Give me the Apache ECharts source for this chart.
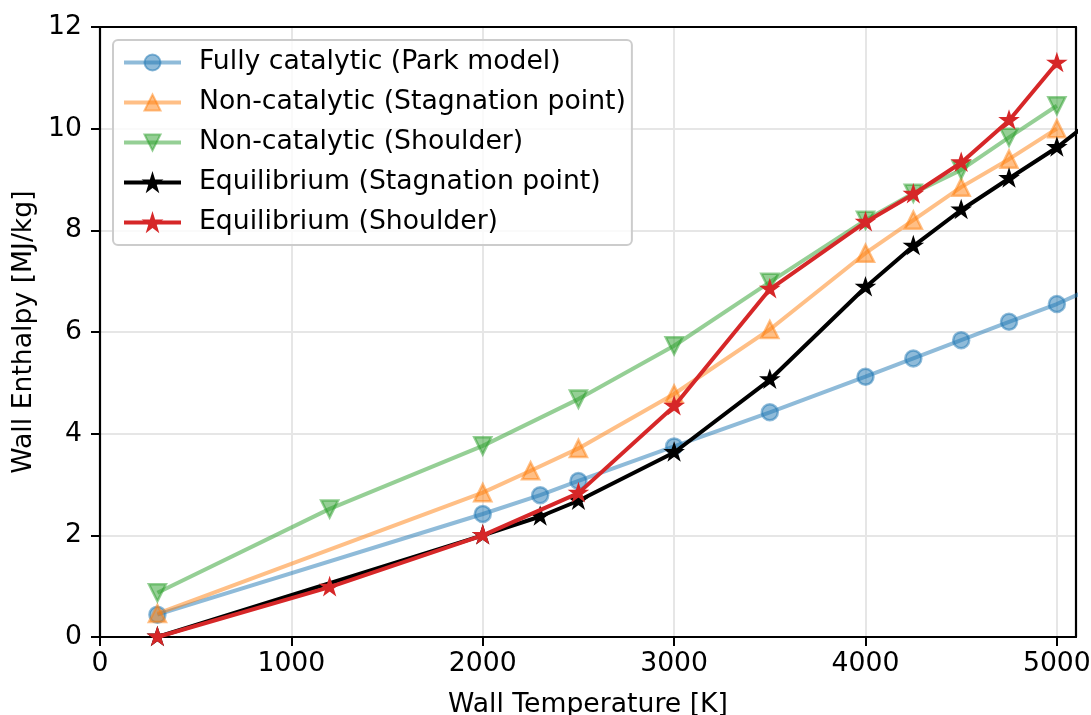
<!DOCTYPE html>
<html>
<head>
<meta charset="utf-8">
<title>Wall Enthalpy vs Wall Temperature</title>
<script src="https://cdn.jsdelivr.net/npm/echarts@6/dist/echarts.min.js"></script>
<style>
  html, body { margin: 0; padding: 0; background: #ffffff; }
  #chart { width: 1091px; height: 715px; }
</style>
</head>
<body>
<div id="chart"></div>
<script>
// Wall temperature [K] and wall enthalpy [MJ/kg] for each case
const fullyCatT = [300, 2000, 2300, 2500, 3000, 3500, 4000, 4250, 4500, 4750, 5000, 5500];
const fullyCatH = [0.44, 2.42, 2.79, 3.07, 3.75, 4.42, 5.12, 5.48, 5.84, 6.20, 6.55, 7.40];

const nonCatStagT = [300, 2000, 2250, 2500, 3000, 3500, 4000, 4250, 4500, 4750, 5000];
const nonCatStagH = [0.46, 2.84, 3.27, 3.71, 4.78, 6.05, 7.55, 8.20, 8.85, 9.40, 10.00];

const nonCatShoT = [300, 1200, 2000, 2500, 3000, 3500, 4000, 4250, 4500, 4750, 5000];
const nonCatShoH = [0.87, 2.52, 3.76, 4.68, 5.73, 6.98, 8.20, 8.73, 9.19, 9.83, 10.45];

const eqStagT = [300, 2000, 2300, 2500, 3000, 3500, 4000, 4250, 4500, 4750, 5000, 5500];
const eqStagH = [0.00, 2.00, 2.37, 2.68, 3.63, 5.06, 6.88, 7.69, 8.40, 9.02, 9.63, 11.10];

const eqShoT = [300, 1200, 2000, 2500, 3000, 3500, 4000, 4250, 4500, 4750, 5000];
const eqShoH = [0.00, 0.98, 2.00, 2.83, 4.54, 6.84, 8.16, 8.71, 9.33, 10.16, 11.29];

const seriesNames = [
  'Fully catalytic (Park model)',
  'Non-catalytic (Stagnation point)',
  'Non-catalytic (Shoulder)',
  'Equilibrium (Stagnation point)',
  'Equilibrium (Shoulder)'
];

const xTicks = [0, 1000, 2000, 3000, 4000, 5000];
const yTicks = [0, 2, 4, 6, 8, 10, 12];

const FONT = 'DejaVu Sans';
const FS = 26.67;
const STAR = 'path://M100,0L122.45,69.1L195.1,69.1L136.33,111.8L158.78,180.9L100,138.2L41.22,180.9L63.67,111.8L4.89,69.1L77.55,69.1Z';

function pairs(xs, ys) {
  return xs.map((x, i) => [x, ys[i]]);
}

function lineSeries(name, xs, ys, color, symbol, opts) {
  const o = opts || {};
  return {
    name: name,
    type: 'line',
    xAxisIndex: 0,
    yAxisIndex: 0,
    data: pairs(xs, ys),
    symbol: symbol,
    symbolSize: o.size || 16,
    symbolRotate: o.rotate || 0,
    symbolKeepAspect: true,
    symbolOffset: o.offset || [0, 0],
    showAllSymbol: true,
    clip: true,
    lineStyle: { color: color, width: 4 },
    itemStyle: { color: color, borderColor: color, borderWidth: o.border || 2.5, opacity: 1 },
    emphasis: { disabled: true },
    z: o.z || 2
  };
}

// frame-only axis (top / right spines)
function frameAxis(extra) {
  return Object.assign({
    type: 'value',
    axisLine: { show: true, onZero: false, lineStyle: { color: '#000000', width: 2.2 } },
    axisTick: { show: false },
    axisLabel: { show: false },
    splitLine: { show: false }
  }, extra);
}

const chart = echarts.init(document.getElementById('chart'), null, { renderer: 'canvas' });

chart.setOption({
  animation: false,
  backgroundColor: '#ffffff',
  textStyle: { fontFamily: FONT },
  grid: { left: 100, right: 15, top: 27, bottom: 78, outerBoundsMode: 'none', containLabel: false },
  legend: {
    orient: 'vertical',
    left: 113,
    top: 40,
    padding: [9, 6, 9, 9],
    itemWidth: 57,
    itemHeight: 20,
    itemGap: 13,
    backgroundColor: 'rgba(255,255,255,0.8)',
    borderColor: '#cccccc',
    borderWidth: 2,
    borderRadius: 5,
    data: seriesNames,
    lineStyle: { width: 4 },
    textStyle: {
      fontFamily: FONT, fontSize: FS, color: '#000000',
      lineHeight: 27, padding: [0, 0, 0, 13]
    }
  },
  xAxis: [{
    type: 'value',
    min: 0,
    max: 5100,
    interval: 1000,
    name: 'Wall Temperature [K]',
    nameLocation: 'middle',
    nameGap: 55,
    nameTextStyle: { fontFamily: FONT, fontSize: FS, color: '#000000' },
    axisLine: { show: true, onZero: false, lineStyle: { color: '#000000', width: 2.2 } },
    axisTick: { show: true, inside: false, length: 9, customValues: xTicks, lineStyle: { color: '#000000', width: 2 } },
    axisLabel: {
      customValues: xTicks,
      margin: 14,
      fontFamily: FONT, fontSize: FS, color: '#000000',
      formatter: v => String(v)
    },
    splitLine: { show: true, lineStyle: { color: '#e6e6e6', width: 2 } }
  }, frameAxis({ position: 'top', min: 0, max: 5100 })],
  yAxis: [{
    type: 'value',
    min: 0,
    max: 12,
    interval: 2,
    name: 'Wall Enthalpy [MJ/kg]',
    nameLocation: 'middle',
    nameGap: 59,
    nameTextStyle: { fontFamily: FONT, fontSize: FS, color: '#000000' },
    axisLine: { show: true, onZero: false, lineStyle: { color: '#000000', width: 2.2 } },
    axisTick: { show: true, inside: false, length: 9, customValues: yTicks, lineStyle: { color: '#000000', width: 2 } },
    axisLabel: {
      customValues: yTicks,
      margin: 18,
      fontFamily: FONT, fontSize: FS, color: '#000000',
      formatter: v => String(v)
    },
    splitLine: { show: true, lineStyle: { color: '#e6e6e6', width: 2 } }
  }, frameAxis({ position: 'right', min: 0, max: 12 })],
  series: [
    lineSeries(seriesNames[0], fullyCatT, fullyCatH, 'rgba(31,119,180,0.5)', 'circle', { size: 16, z: 2 }),
    lineSeries(seriesNames[1], nonCatStagT, nonCatStagH, 'rgba(255,127,14,0.5)', 'triangle', { size: 17, z: 3 }),
    lineSeries(seriesNames[2], nonCatShoT, nonCatShoH, 'rgba(44,160,44,0.5)', 'triangle', { size: 17, rotate: 180, z: 4 }),
    lineSeries(seriesNames[3], eqStagT, eqStagH, '#000000', STAR, { size: 17, border: 1.5, offset: [0, -0.8], z: 5 }),
    lineSeries(seriesNames[4], eqShoT, eqShoH, '#d62728', STAR, { size: 17, border: 1.5, offset: [0, -0.8], z: 6 })
  ]
});
</script>
</body>
</html>
